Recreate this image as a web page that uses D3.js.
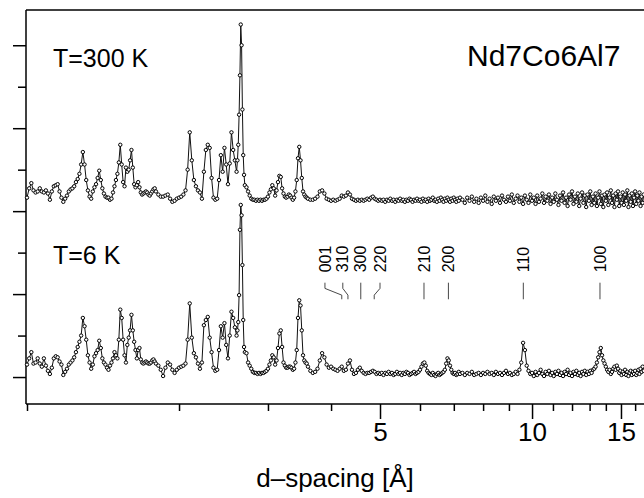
<!DOCTYPE html>
<html>
<head>
<meta charset="utf-8">
<script src="https://cdn.jsdelivr.net/npm/d3@7"></script>
<style>
  body { margin: 0; background: #fff; }
  svg { display: block; font-family: "Liberation Sans", Arial, Helvetica, sans-serif; }
</style>
</head>
<body>
<svg id="chart" width="644" height="498"></svg>
<script>
// d-spacing grid (Å), shared by both patterns
const dSpacing = [
  1.00,1.01,1.02,1.03,1.04,1.05,1.06,1.07,1.08,1.09,
  1.10,1.11,1.12,1.13,1.14,1.15,1.16,1.17,1.18,1.19,
  1.20,1.21,1.22,1.23,1.24,1.25,1.26,1.27,1.28,1.29,
  1.30,1.31,1.32,1.33,1.34,1.35,1.36,1.37,1.38,1.39,
  1.40,1.41,1.42,1.43,1.44,1.45,1.46,1.47,1.48,1.49,
  1.50,1.51,1.52,1.53,1.54,1.55,1.56,1.57,1.58,1.59,
  1.60,1.61,1.62,1.63,1.64,1.65,1.66,1.67,1.68,1.69,
  1.70,1.71,1.72,1.73,1.74,1.75,1.76,1.77,1.78,1.79,
  1.80,1.82,1.84,1.86,1.88,1.90,1.92,1.94,1.96,1.98,
  2.00,2.02,2.04,2.06,2.08,2.10,2.12,2.14,2.16,2.18,
  2.20,2.22,2.24,2.26,2.28,2.30,2.32,2.34,2.36,2.38,
  2.40,2.42,2.44,2.46,2.48,2.50,2.52,2.54,2.56,2.58,
  2.60,2.61,2.62,2.63,2.64,2.65,2.66,2.67,2.68,2.69,
  2.70,2.72,2.74,2.76,2.78,2.80,2.82,2.84,2.86,2.88,
  2.90,2.92,2.94,2.96,2.98,3.00,3.02,3.04,3.06,3.08,
  3.10,3.12,3.14,3.16,3.18,3.20,3.22,3.24,3.26,3.28,
  3.30,3.32,3.34,3.36,3.38,3.40,3.42,3.44,3.46,3.48,
  3.50,3.52,3.54,3.56,3.58,3.60,3.64,3.68,3.72,3.76,
  3.80,3.84,3.88,3.92,3.96,4.00,4.04,4.08,4.12,4.16,
  4.20,4.24,4.28,4.32,4.36,4.40,4.44,4.48,4.52,4.56,
  4.60,4.64,4.68,4.72,4.76,4.80,4.84,4.88,4.92,4.96,
  5.00,5.04,5.08,5.12,5.16,5.20,5.24,5.28,5.32,5.36,
  5.40,5.44,5.48,5.52,5.56,5.60,5.64,5.68,5.72,5.76,
  5.80,5.84,5.88,5.92,5.96,6.00,6.04,6.08,6.12,6.16,
  6.20,6.24,6.28,6.32,6.36,6.40,6.44,6.48,6.52,6.56,
  6.60,6.64,6.68,6.72,6.76,6.80,6.84,6.88,6.92,6.96,
  7.00,7.04,7.08,7.12,7.16,7.20,7.28,7.36,7.44,7.52,
  7.60,7.68,7.76,7.84,7.92,8.00,8.08,8.16,8.24,8.32,
  8.40,8.48,8.56,8.64,8.72,8.80,8.88,8.96,9.04,9.12,
  9.20,9.28,9.36,9.44,9.52,9.60,9.68,9.76,9.84,9.92,
  10.00,10.08,10.16,10.24,10.32,10.40,10.48,10.56,10.64,10.72,
  10.80,10.88,10.96,11.04,11.12,11.20,11.28,11.36,11.44,11.52,
  11.60,11.68,11.76,11.84,11.92,12.00,12.08,12.16,12.24,12.32,
  12.40,12.48,12.56,12.64,12.72,12.80,12.88,12.96,13.04,13.12,
  13.20,13.28,13.36,13.44,13.52,13.60,13.68,13.76,13.84,13.92,
  14.00,14.08,14.16,14.24,14.32,14.40,14.48,14.56,14.64,14.72,
  14.80,14.88,14.96,15.04,15.12,15.20,15.28,15.36,15.44,15.52,
  15.60,15.68,15.76,15.84,15.92,16.00,16.08,16.16,16.24,16.32,
  16.40,16.48,16.56,16.64
]

// T = 300 K pattern (arb. units, drawn shifted up by offset300K)
const i300K = [
  7,16,21,14,12,13,16,13,12,14,
  11,5,13,18,19,20,13,7,3,6,
  9,13,15,16,18,22,25,30,39,51,
  39,24,14,8,6,13,17,20,26,33,
  24,16,11,8,7,7,5,6,12,18,
  24,30,41,58,39,22,18,36,32,34,
  43,53,36,20,17,19,22,17,12,10,
  11,12,13,12,10,9,11,13,15,16,
  13,10,8,8,9,10,6,3,4,6,
  7,8,10,14,34,70,43,24,18,14,
  12,6,32,53,58,55,26,7,5,6,
  24,48,32,55,39,20,40,70,53,43,
  32,43,58,87,125,174,154,92,48,29,
  19,17,13,9,6,5,5,4,5,4,
  5,4,5,5,6,8,12,15,19,16,
  9,14,22,28,27,16,11,8,7,8,
  10,9,7,5,7,13,24,45,56,43,
  26,13,10,8,7,6,5,5,6,8,
  13,14,11,6,5,4,5,4,5,6,
  9,8,9,12,10,6,5,4,5,4,
  5,4,5,6,5,7,8,6,5,4,
  5,4,5,3,5,4,6,4,5,3,
  5,4,6,4,5,3,5,4,6,5,
  3,5,4,6,4,5,3,6,4,5,
  3,6,4,5,7,4,5,3,6,4,
  7,5,3,6,4,7,5,3,6,4,
  7,5,3,6,4,7,5,2,7,4,
  8,3,6,2,7,4,9,3,6,1,
  8,4,7,2,9,5,3,8,4,10,
  2,6,9,3,7,1,9,5,2,10,
  4,7,1,9,3,6,11,2,8,4,
  10,1,7,3,11,5,0,9,4,12,
  2,7,-1,10,5,13,1,8,3,11,
  -1,6,12,2,9,-2,10,4,13,0,
  8,2,11,-1,7,13,1,9,-2,10,
  4,12,0,7,14,2,9,-2,11,5,
  13,-1,8,2,12,0,10,4,14,-2,
  9,3,11,-1,7,13,1,9,4,12,
  -1,8,2,10
]

// T = 6 K pattern (arb. units)
const i6K = [
  12,18,24,13,14,18,13,10,18,11,
  6,3,9,18,20,19,15,12,2,5,
  8,12,14,16,19,24,29,34,40,57,
  49,36,21,14,8,12,20,23,26,35,
  28,18,14,12,9,7,11,14,18,24,
  21,18,36,65,57,36,21,14,31,38,
  45,60,45,34,26,18,26,28,17,14,
  13,14,15,14,13,13,14,16,17,15,
  13,11,7,1,9,14,12,7,4,7,
  9,10,11,13,36,71,38,23,19,13,
  8,14,50,55,58,38,24,9,6,7,
  26,49,38,52,31,18,40,63,57,48,
  40,45,53,79,142,166,156,108,55,29,
  24,23,14,11,8,5,4,4,3,4,
  3,4,4,5,6,8,12,16,21,19,
  12,16,28,42,45,29,14,11,9,9,
  10,10,9,7,8,14,26,57,74,69,
  45,21,16,14,13,10,6,4,5,8,
  16,23,19,12,9,10,8,7,6,8,
  10,6,7,13,16,7,3,4,7,9,
  6,4,3,4,4,5,6,5,3,4,
  3,4,2,4,3,5,3,4,2,3,
  5,3,4,2,4,3,5,4,2,3,
  4,5,3,4,5,7,10,13,14,11,
  6,4,3,2,4,2,1,3,4,2,
  3,4,5,7,13,18,16,11,7,4,
  3,4,2,3,5,3,4,2,4,3,
  5,2,3,4,2,4,3,5,3,4,
  2,5,3,4,2,4,6,3,4,2,
  3,5,3,7,14,33,26,11,6,3,
  4,1,5,2,4,7,3,1,5,3,
  6,2,4,1,5,3,6,2,4,1,
  5,3,7,2,4,1,5,3,6,2,
  4,1,5,3,6,2,5,3,6,4,
  7,8,10,14,19,24,28,21,16,13,
  10,7,5,7,3,5,8,10,7,11,
  8,4,6,2,5,3,7,2,5,1,
  4,6,2,5,3,6,2,4,7,3,
  8,5,10,6
]

const offset300K = 166

// reflection markers
const hkl = ['001', '310', '300', '220', '210', '200', '110', '100']
const peakD = [4.20, 4.32, 4.58, 4.87, 6.11, 6.83, 9.61, 13.63]
const labelD = [3.89, 4.22, 4.58, 5.00, 6.11, 6.83, 9.61, 13.63]

const xMajorTicks = [5, 10, 15]
const xMinorTicks = [1, 2, 3, 4, 6, 7, 8, 9, 11, 12, 13, 14, 16]
const yMajorTicks = [0, 80, 160, 240, 320]
const yMinorTicks = [40, 120, 200, 280]

const svg = d3.select('#chart')
const x = d3.scaleLog().domain([1, 16.66]).range([27, 644])
const y = d3.scaleLinear().domain([-26, 354]).range([404, 10])

const pat6 = dSpacing.map((d, i) => ({d: d, v: i6K[i]}))
const pat300 = dSpacing.map((d, i) => ({d: d, v: i300K[i] + offset300K}))

// axes
const xMinor = svg.append('g')
  .attr('transform', `translate(0,${y.range()[0]})`)
  .call(d3.axisBottom(x).tickValues(xMinorTicks).tickSize(7).tickFormat(''))
const xMajor = svg.append('g')
  .attr('transform', `translate(0,${y.range()[0]})`)
  .call(d3.axisBottom(x).tickValues(xMajorTicks).tickSize(15).tickPadding(4).tickFormat(d3.format('d')))
const yMinor = svg.append('g')
  .attr('transform', `translate(26,0)`)
  .call(d3.axisLeft(y).tickValues(yMinorTicks).tickSize(8).tickFormat(''))
const yMajor = svg.append('g')
  .attr('transform', `translate(26,0)`)
  .call(d3.axisLeft(y).tickValues(yMajorTicks).tickSize(13).tickFormat(''))

svg.selectAll('.domain').remove()
svg.selectAll('.tick line').attr('stroke', '#000').attr('stroke-width', 1.5)
xMajor.selectAll('text')
  .attr('fill', '#000')
  .style('font-size', '26px')
  .style('font-family', '"Liberation Sans", Arial, sans-serif')

// frame: left, bottom, top
const frame = svg.append('g').attr('stroke', '#000').attr('stroke-width', 1.5).attr('fill', 'none')
frame.append('line').attr('x1', 26).attr('x2', 26).attr('y1', y.range()[1]).attr('y2', y.range()[0])
frame.append('line').attr('x1', 26).attr('x2', x.range()[1]).attr('y1', y.range()[0]).attr('y2', y.range()[0])
frame.append('line').attr('x1', 26).attr('x2', x.range()[1]).attr('y1', y.range()[1]).attr('y2', y.range()[1])

// patterns
const line = d3.line()
  .x(p => x(p.d))
  .y(p => y(p.v))

function drawPattern(data, cls) {
  const g = svg.append('g').attr('class', cls)
  g.append('path')
    .datum(data)
    .attr('d', line)
    .attr('fill', 'none')
    .attr('stroke', '#111')
    .attr('stroke-width', 1)
  g.selectAll('circle')
    .data(data)
    .join('circle')
    .attr('cx', p => x(p.d))
    .attr('cy', p => y(p.v))
    .attr('r', 1.7)
    .attr('fill', '#fff')
    .attr('stroke', '#000')
    .attr('stroke-width', 1)
}

drawPattern(pat6, 'pat6')
drawPattern(pat300, 'pat300')

// reflection markers (heights in data units)
const leadTop = 91, leadBend1 = 85.5, leadBend2 = 79, leadBottom = 75, labelBase = 101
const markers = svg.append('g')
hkl.forEach((h, i) => {
  const xl = x(labelD[i]), xp = x(peakD[i])
  let path
  if (Math.abs(xl - xp) < 0.5) {
    path = `M${xp},${y(leadTop)}V${y(leadBottom)}`
  } else {
    path = `M${xl},${y(leadTop)}V${y(leadBend1)}L${xp},${y(leadBend2)}V${y(leadBottom)}`
  }
  markers.append('path')
    .attr('d', path)
    .attr('fill', 'none')
    .attr('stroke', '#333')
    .attr('stroke-width', 0.9)
  markers.append('text')
    .attr('transform', `translate(${xl},${y(labelBase)}) rotate(-90)`)
    .attr('dy', '0.35em')
    .attr('text-anchor', 'start')
    .style('font-size', '16px')
    .text(h)
})

// texts
svg.append('text').attr('x', 53).attr('y', 67).style('font-size', '25px').text('T=300 K')
svg.append('text').attr('x', 53).attr('y', 264).style('font-size', '25px').text('T=6 K')
svg.append('text').attr('x', 467).attr('y', 66).style('font-size', '30px').text('Nd7Co6Al7')
svg.append('text')
  .attr('x', 335).attr('y', 487)
  .attr('text-anchor', 'middle')
  .style('font-size', '26px')
  .text('d–spacing [Å]')
</script>
</body>
</html>
